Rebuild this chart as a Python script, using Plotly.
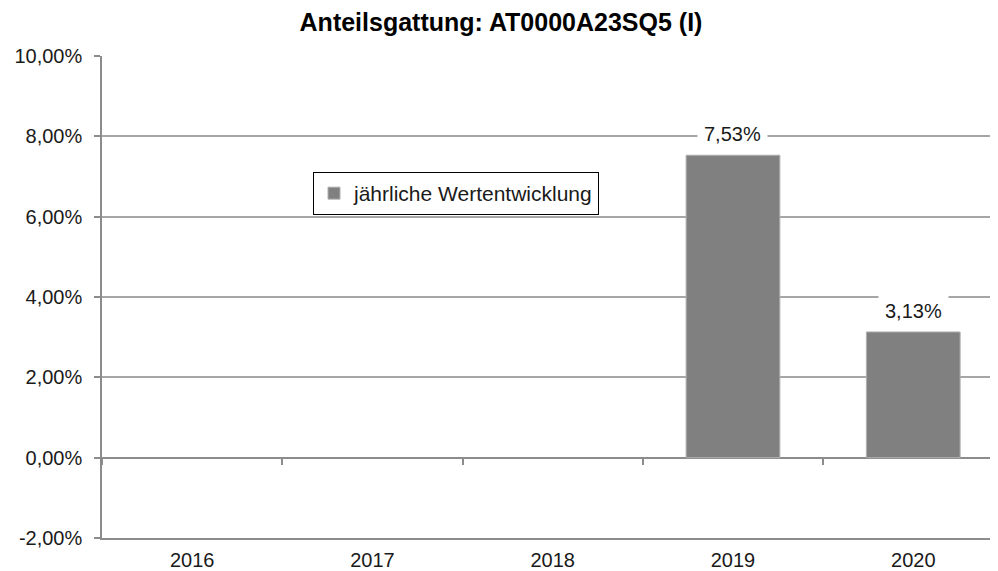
import plotly.graph_objects as go

categories = ["2016", "2017", "2018", "2019", "2020"]
values = [None, None, None, 7.53, 3.13]
value_labels = ["", "", "", "7,53%", "3,13%"]
series_name = "jährliche Wertentwicklung"
title_text = "Anteilsgattung: AT0000A23SQ5 (I)"
y_ticks = [-2, 0, 2, 4, 6, 8, 10]
y_ticktext = ["-2,00%", "0,00%", "2,00%", "4,00%", "6,00%", "8,00%", "10,00%"]

FONT = "Liberation Sans, Arial, sans-serif"
GRID = "#a6a6a6"
AXIS = "#8c8c8c"
TXT = "#1a1a1a"

# page body has an 8px default margin; compensate
OFF = 8
W, H = 998 - OFF, 571 - OFF
L, T = 102 - OFF, 56 - OFF
B = 571 - 538
PW = W - L
PH = H - T - B

fig = go.Figure()
fig.add_trace(go.Bar(
    x=categories, y=values, name=series_name,
    marker=dict(color="#808080", line=dict(color="#b0b0b0", width=1)),
    width=0.52, showlegend=True, hoverinfo="skip",
))
# invisible helper trace so the zero-line tick axis renders
fig.add_trace(go.Scatter(
    x=categories, y=[None] * len(categories), xaxis="x2",
    showlegend=False, hoverinfo="skip", mode="markers",
))

for i, (v, t) in enumerate(zip(values, value_labels)):
    if v is None:
        continue
    fig.add_annotation(
        x=i, y=v, xref="x", yref="y", text=t, showarrow=False,
        yanchor="bottom", yshift=3,
        bgcolor="white", borderpad=6,
        font=dict(family=FONT, size=20, color=TXT),
    )

xrange = [-0.5, 4.47]
fig.update_layout(
    width=W, height=H,
    margin=dict(l=L, r=0, t=T, b=B, pad=0),
    paper_bgcolor="white", plot_bgcolor="white",
    separators=",.",
    font=dict(family=FONT, size=20, color=TXT),
    title=dict(
        text=title_text, x=(501 - OFF) / W, xanchor="center",
        y=1 - (22 - OFF) / H, yanchor="middle",
        font=dict(family=FONT, size=25, color="#000000", weight="bold"),
    ),
    showlegend=True,
    legend=dict(
        x=(313 - 102) / PW, y=(538 - 172) / PH, xanchor="left", yanchor="top",
        bordercolor="#000000", borderwidth=1, bgcolor="white",
        font=dict(family=FONT, size=21, color=TXT),
        itemwidth=30, tracegroupgap=0,
    ),
    xaxis=dict(
        type="category", range=xrange, showgrid=False, zeroline=False,
        showline=True, linecolor=AXIS, linewidth=1.5,
        ticks="", ticklabelstandoff=3, automargin=False,
        tickfont=dict(family=FONT, size=20, color=TXT),
    ),
    xaxis2=dict(
        type="category", overlaying="x", anchor="free", position=2 / 12,
        range=xrange, showgrid=False, zeroline=False, showline=False,
        ticks="outside", tickson="boundaries", ticklen=6, tickcolor=AXIS,
        tickwidth=1.5, showticklabels=False, automargin=False,
    ),
    yaxis=dict(
        range=[-2, 10], tickvals=y_ticks, ticktext=y_ticktext,
        showgrid=True, gridcolor=GRID, gridwidth=1.5,
        zeroline=True, zerolinecolor=AXIS, zerolinewidth=1.5,
        showline=True, linecolor=AXIS, linewidth=1.5,
        ticks="outside", ticklen=6, tickcolor=AXIS, tickwidth=1.5,
        ticklabelstandoff=8, automargin=False,
        tickfont=dict(family=FONT, size=20, color=TXT),
    ),
)

fig.write_html("out.html")
